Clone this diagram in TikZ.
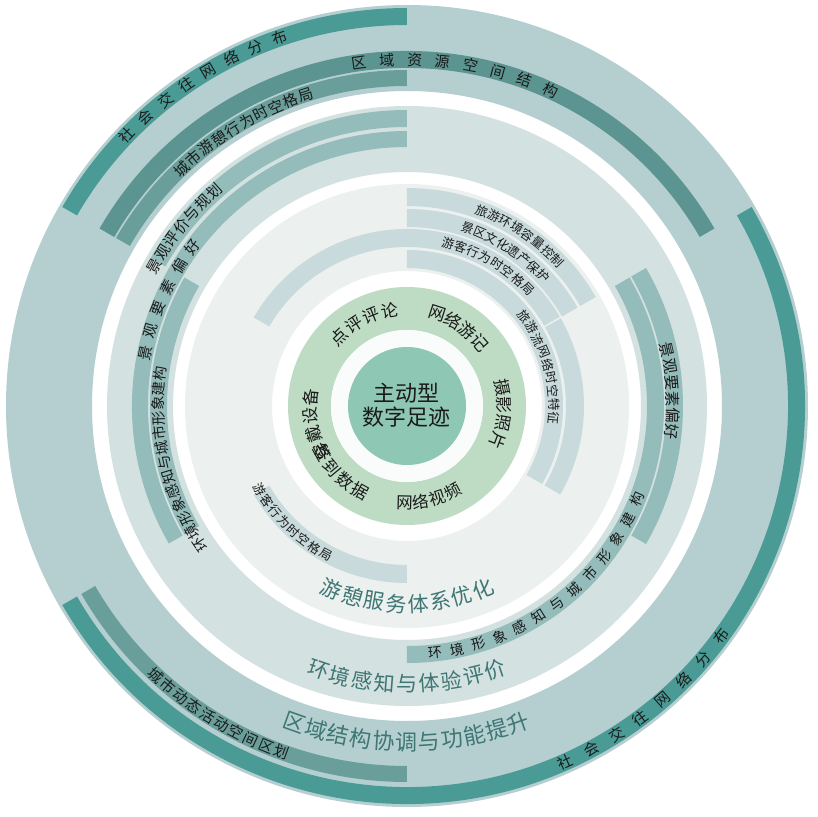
\documentclass[tikz,border=0pt]{standalone}
\usepackage{fontspec}
\setmainfont{Noto Sans CJK SC}
\definecolor{ringA}{HTML}{B5CFD1}
\definecolor{ringB}{HTML}{D4E1E1}
\definecolor{ringC}{HTML}{ECF0EF}
\definecolor{bandA}{HTML}{4A9B96}
\definecolor{bandB}{HTML}{5B9490}
\definecolor{bandC}{HTML}{6A9E9A}
\definecolor{bandM}{HTML}{94BCBB}
\definecolor{bandI}{HTML}{C8DADB}
\definecolor{greenR}{HTML}{BEDCC4}
\definecolor{whiteR}{HTML}{FAFCFB}
\definecolor{core}{HTML}{8EC7B4}
\definecolor{bigtxt}{HTML}{3D7673}
\definecolor{labc}{HTML}{1A1A1A}
% annular sector: colour, a1, a2, r1, r2
\newcommand\sect[5]{\fill[#1] (#2:#4pt) arc[start angle=#2, end angle=#3, radius=#4pt] -- (#3:#5pt) arc[start angle=#3, end angle=#2, radius=#5pt] -- cycle;}
% full ring: colour, inner r, outer r
\newcommand\fullring[3]{\fill[#1, even odd rule] (0,0) circle[radius=#3pt] (0,0) circle[radius=#2pt];}
% text along arc: name, radius, start angle, step, rotation offset, style, chars
\newcommand\arctext[7]{%
  \foreach \ch [count=\i from 0] in {#7}{%
    \pgfmathsetmacro\ang{#3+\i*(#4)}%
    \node[#6, rotate=\ang+#5] (#1-\i) at (\ang:#2pt) {\ch};}}
\tikzset{
  lab/.style={inner sep=0pt, text=labc, font=\fontsize{#1}{#1}\selectfont},
  big/.style={inner sep=0pt, text=bigtxt, font=\fontsize{#1}{#1}\selectfont},
}
\begin{document}
\begin{tikzpicture}[x=1pt,y=1pt]
\fill[white] (-407pt,-411pt) rectangle (410pt,406pt);
\useasboundingbox (-407pt,-411pt) rectangle (410pt,406pt);
% ---------- outer ring ----------
\fullring{ringA}{315}{401}
\sect{bandA}{90}{150}{381}{398}
\sect{bandA}{-150}{30}{381}{398}
\sect{bandB}{30}{150}{338}{355}
\sect{bandC}{90}{150}{320}{336}
\sect{bandC}{210}{270}{360}{376}
% ---------- middle ring ----------
\fullring{ringB}{234}{300}
\sect{bandM}{90}{150}{279}{296}
\sect{bandM}{90}{210}{259}{275}
\sect{bandM}{150}{210}{240}{257}
\sect{bandM}{-30}{30}{259}{276}
\sect{bandM}{-90}{30}{240}{257}
% ---------- inner ring ----------
\fullring{ringC}{135}{222}
\sect{bandI}{30}{90}{200}{218}
\sect{bandI}{30}{90}{179}{197}
\sect{bandI}{30.3}{150}{159}{177}
\sect{bandI}{-30}{29.7}{159}{177}
\sect{bandI}{210}{270}{159}{177}
\sect{bandI}{-30}{90}{138}{156}
% ---------- core ----------
\fullring{greenR}{76}{119}
\fill[whiteR] (0,0) circle[radius=76pt];
\node[circle, fill=core, minimum size=118pt, inner sep=0pt] (core) at (0,0) {};
\node[lab=22, align=center] (coretxt) at (0,1pt) {主动型\\[2pt]数字足迹};
% ---------- outer ring labels ----------
\arctext{aL}{389.5}{136}{-3.85}{-90}{lab=15}{社,会,交,往,网,络,分,布}
\arctext{aR}{389.5}{-66}{4.25}{90}{lab=15}{社,会,交,往,网,络,分,布}
\arctext{bT}{346.5}{98}{-4.64}{-90}{lab=15}{区,域,资,源,空,间,结,构}
\arctext{cT}{327}{133.5}{-2.83}{-90}{lab=15}{城,市,游,憩,行,为,时,空,格,局}
\arctext{dB}{368}{227}{2.56}{90}{lab=15}{城,市,动,态,活,动,空,间,区,划}
\arctext{o1}{336}{250.4}{3.9}{90}{big=22}{区,域,结,构,协,调,与,功,能,提,升}
% ---------- middle ring labels ----------
\arctext{l1}{288.5}{151}{-3.17}{-90}{lab=15}{景,观,评,价,与,规,划}
\arctext{l2}{267}{168.6}{-5.02}{-90}{lab=15}{景,观,要,素,偏,好}
\arctext{l3}{249}{213.8}{-3.44}{-90}{lab=14.5}{环,境,形,象,感,知,与,城,市,形,象,建,构}
\arctext{r1}{266}{12.2}{-3.56}{-90}{lab=15.5}{景,观,要,素,偏,好}
\arctext{r2}{248.5}{-83.5}{5.12}{90}{lab=14}{环,境,形,象,感,知,与,城,市,形,象,建,构}
\arctext{o2}{278}{251.4}{4.64}{90}{big=21}{环,境,感,知,与,体,验,评,价}
% ---------- inner ring labels ----------
\arctext{ia}{209}{69}{-3.57}{-90}{lab=12.5}{旅,游,环,境,容,量,控,制}
\arctext{ib}{188}{71}{-3.89}{-90}{lab=12.5}{景,区,文,化,遗,产,保,护}
\arctext{ic}{168}{75.8}{-4.54}{-90}{lab=12.5}{游,客,行,为,时,空,格,局}
\arctext{id}{147}{37.5}{-5.29}{-90}{lab=12.5}{旅,游,流,网,络,时,空,特,征}
\arctext{ie}{169}{209.7}{4.53}{90}{lab=12.5}{游,客,行,为,时,空,格,局}
\arctext{o3}{198}{247.6}{6.41}{90}{big=21}{游,憩,服,务,体,系,优,化}
% ---------- green ring labels ----------
\arctext{g1}{97}{134.6}{-11.5}{-90}{lab=17}{点,评,评,论}
\arctext{g2}{97}{72}{-10.33}{-90}{lab=17}{网,络,游,记}
\arctext{g3}{97}{11}{-10.57}{-90}{lab=17}{摄,影,照,片}
\arctext{g4}{97}{268.5}{9.9}{90}{lab=16.5}{网,络,视,频}
\arctext{g5}{97}{208}{-11}{-90}{lab=17}{穿,戴,设,备}
\arctext{g6}{97}{209}{10.67}{90}{lab=17}{签,到,数,据}
\end{tikzpicture}
\end{document}
